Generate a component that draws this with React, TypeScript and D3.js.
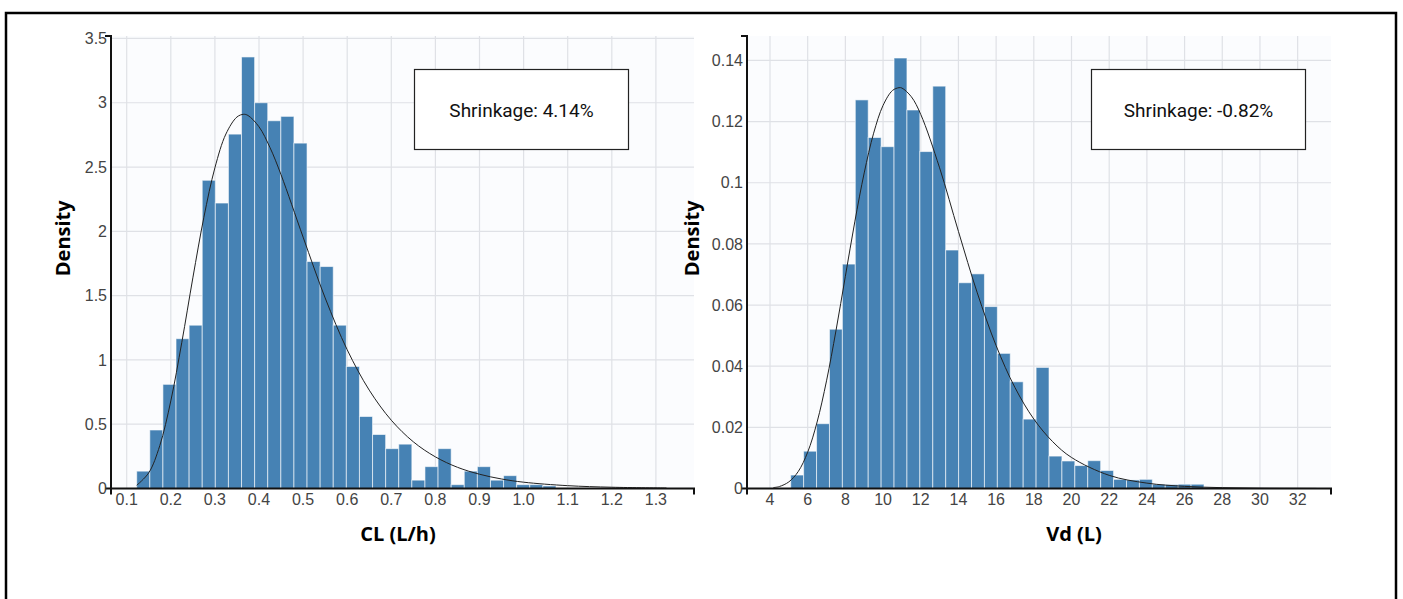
import React from 'react';
import * as d3 from 'd3';

// ---------- DATA ----------
const clBinStart = 0.1227;
const clBinWidth = 0.02971;
const clDensity = [0.135, 0.455, 0.81, 1.165, 1.27, 2.397, 2.22, 2.756, 3.356, 3.0, 2.86, 2.894, 2.686, 1.765, 1.726, 1.27, 0.949, 0.56, 0.42, 0.31, 0.345, 0.065, 0.17, 0.31, 0.03, 0.135, 0.17, 0.065, 0.1, 0.03, 0.03, 0.02];
const clCurve: [number, number][] = [
  [0.1227, 0.025], [0.15, 0.122], [0.175, 0.333], [0.2, 0.681], [0.225, 1.137], [0.25, 1.638], [0.275, 2.109],
  [0.3, 2.494], [0.325, 2.757], [0.35, 2.889], [0.365, 2.91], [0.375, 2.901], [0.4, 2.813], [0.425, 2.651], [0.45, 2.44],
  [0.5, 1.955], [0.55, 1.482], [0.6, 1.079], [0.65, 0.765], [0.7, 0.531], [0.75, 0.363], [0.8, 0.246],
  [0.85, 0.165], [0.9, 0.111], [0.95, 0.074], [1.0, 0.049], [1.1, 0.022], [1.2, 0.0099], [1.324, 0.0037],
];
const clXTicks = ['0.1', '0.2', '0.3', '0.4', '0.5', '0.6', '0.7', '0.8', '0.9', '1.0', '1.1', '1.2', '1.3'];
const clYTicks = ['0', '0.5', '1', '1.5', '2', '2.5', '3', '3.5'];

const vdBinStart = 5.1;
const vdBinWidth = 0.6853;
const vdDensity = [0.0044, 0.0122, 0.0212, 0.0521, 0.0734, 0.1271, 0.1148, 0.1118, 0.1408, 0.1238, 0.1102, 0.1316, 0.078, 0.0673, 0.0702, 0.0595, 0.0442, 0.0349, 0.0227, 0.0396, 0.0106, 0.009, 0.0075, 0.0091, 0.0059, 0.003, 0.0028, 0.003, 0.0014, 0.0013, 0.0014, 0.0014];
const vdCurve: [number, number][] = [
  [4.18, 0.0003], [4.5, 0.00065], [5, 0.00216], [5.5, 0.00556], [6, 0.01187], [6.5, 0.02174], [7, 0.03521], [7.5, 0.05156],
  [8, 0.06942], [8.5, 0.08721], [9, 0.10322], [9.5, 0.11621], [10, 0.1253], [10.5, 0.13018], [10.85, 0.1311], [11, 0.13098],
  [11.5, 0.12814], [12, 0.12236], [13, 0.10488], [14, 0.08408], [15, 0.06398], [16, 0.04672], [17, 0.03301], [18, 0.02271],
  [19, 0.01532], [20, 0.01015], [22, 0.0043], [24, 0.00176], [26, 0.0007], [28, 0.00028], [30, 0.0001], [32, 0.00004], [33, 0.00002],
];
const vdXTicks = ['4', '6', '8', '10', '12', '14', '16', '18', '20', '22', '24', '26', '28', '30', '32'];
const vdYTicks = ['0', '0.02', '0.04', '0.06', '0.08', '0.1', '0.12', '0.14'];

const clLabel = 'CL (L/h)';
const vdLabel = 'Vd (L)';
const yLabel = 'Density';
const clShrink = 'Shrinkage: 4.14%';
const vdShrink = 'Shrinkage: -0.82%';

// ---------- CHART ----------
type PanelProps = {
  left: number; right: number; top: number; bottom: number;
  xDomain: [number, number]; yDomain: [number, number];
  binStart: number; binWidth: number; density: number[]; curve: [number, number][];
  xTicks: string[]; yTicks: string[]; xLabel: string; xLabelX: number; yLabelX: number;
  shrink: string; boxX: number;
};

const tickFont = '"Liberation Sans", Arial, sans-serif';
const titleFont = '"Open Sans", sans-serif';

function Panel(p: PanelProps) {
  const x = d3.scaleLinear().domain(p.xDomain).range([p.left, p.right]);
  const y = d3.scaleLinear().domain(p.yDomain).range([p.bottom, p.top]);
  const line = d3.line<[number, number]>().x(d => x(d[0])).y(d => y(d[1])).curve(d3.curveCatmullRom);
  const midY = (p.top + p.bottom) / 2;
  return (
    <g>
      <rect x={p.left} y={p.top} width={p.right - p.left} height={p.bottom - p.top} fill="#fbfcfe" />
      {p.xTicks.map(t => (
        <line key={'gx' + t} x1={x(+t)} x2={x(+t)} y1={p.top} y2={p.bottom} stroke="#dfe1e6" strokeWidth={1.2} />
      ))}
      {p.yTicks.map(t => (
        <line key={'gy' + t} x1={p.left} x2={p.right} y1={y(+t)} y2={y(+t)} stroke="#dfe1e6" strokeWidth={1.2} />
      ))}
      {p.density.map((d, i) => {
        const e0 = p.binStart + i * p.binWidth;
        const e1 = e0 + p.binWidth;
        return (
          <rect key={'b' + i} x={x(e0)} y={y(d)} width={x(e1) - x(e0)} height={y(0) - y(d)}
            fill="#4682b4" stroke="rgba(255,255,255,0.6)" strokeWidth={1} />
        );
      })}
      <path d={line(p.curve) || ''} fill="none" stroke="#222" strokeWidth={1} />
      {/* axes */}
      <path d={`M${p.left},${p.bottom + 6}V${p.bottom}H${p.right}V${p.bottom + 6}`} fill="none" stroke="#111" strokeWidth={2} />
      <path d={`M${p.left - 6},${p.top}H${p.left}V${p.bottom}H${p.left - 6}`} fill="none" stroke="#111" strokeWidth={2} />
      {p.xTicks.map(t => (
        <text key={'tx' + t} x={x(+t)} y={p.bottom + 16} textAnchor="middle" fontFamily={tickFont} fontSize={16} fill="#444">{t}</text>
      ))}
      {p.yTicks.map(t => (
        <text key={'ty' + t} x={p.left - 4} y={y(+t)} dy="0.35em" textAnchor="end" fontFamily={tickFont} fontSize={16} fill="#444">{t}</text>
      ))}
      <text x={p.xLabelX} y={p.bottom + 52} textAnchor="middle" fontFamily={titleFont} fontWeight={700} fontSize={20} fill="#000">{p.xLabel}</text>
      <text transform={`translate(${p.yLabelX},${midY - 24}) rotate(-90)`} textAnchor="middle" dy="0.35em" fontFamily={titleFont} fontWeight={700} fontSize={20} fill="#000">{yLabel}</text>
      <rect x={p.boxX} y={69.5} width={214} height={80} fill="#fff" stroke="#222" strokeWidth={1.2} />
      <text x={p.boxX + 107} y={110} dy="0.35em" textAnchor="middle" fontFamily="Roboto, sans-serif" fontSize={19} fill="#111">{p.shrink}</text>
    </g>
  );
}

export default function App() {
  return (
    <svg width={1403} height={599} style={{ position: 'absolute', left: 0, top: 0, background: '#fff' }}>
      <rect x={6} y={13} width={1390} height={700} fill="#fff" stroke="#000" strokeWidth={2.5} />
      <Panel left={111} right={694} top={36} bottom={488.5} xDomain={[0.0644, 1.3864]} yDomain={[0, 3.519]}
        binStart={clBinStart} binWidth={clBinWidth} density={clDensity} curve={clCurve}
        xTicks={clXTicks} yTicks={clYTicks} xLabel={clLabel} xLabelX={398} yLabelX={63} shrink={clShrink} boxX={414.5} />
      <Panel left={747} right={1331} top={36} bottom={488.5} xDomain={[2.78, 33.77]} yDomain={[0, 0.148]}
        binStart={vdBinStart} binWidth={vdBinWidth} density={vdDensity} curve={vdCurve}
        xTicks={vdXTicks} yTicks={vdYTicks} xLabel={vdLabel} xLabelX={1074} yLabelX={692} shrink={vdShrink} boxX={1091.5} />
    </svg>
  );
}
